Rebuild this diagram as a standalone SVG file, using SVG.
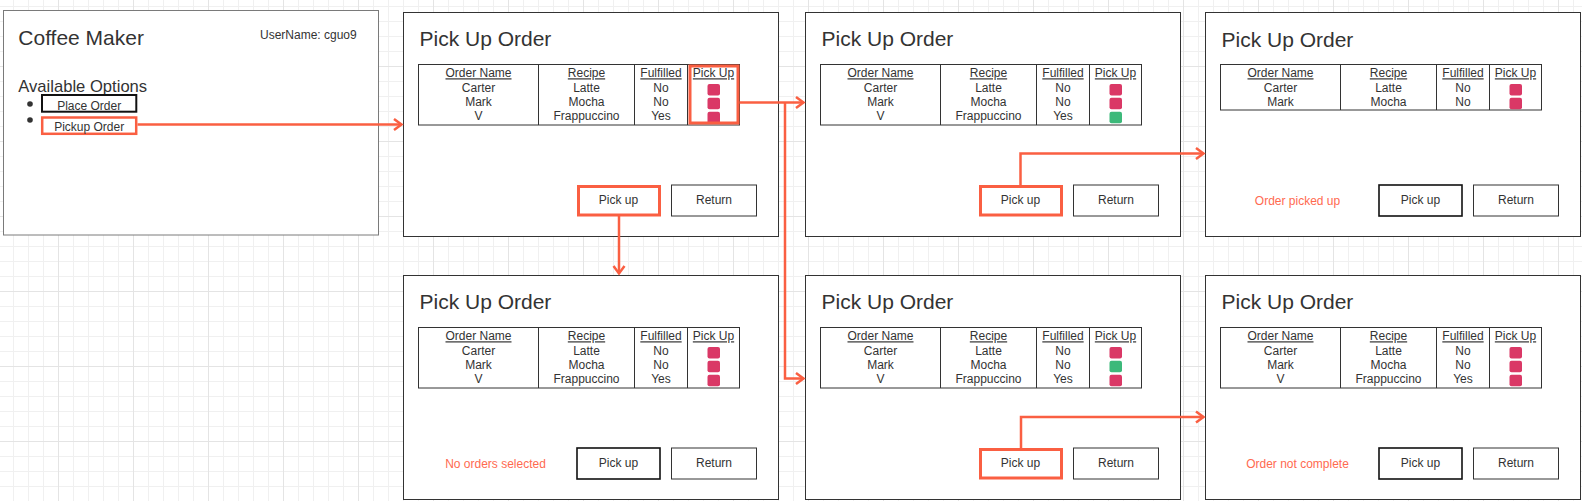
<svg xmlns="http://www.w3.org/2000/svg" width="1582" height="501" viewBox="0 0 1582 501">
<defs>
<style>
.t{font-family:"Liberation Sans",Arial,sans-serif;fill:#333}
.title{font-size:21px}
.c{font-size:12px;text-anchor:middle}
.hd{text-decoration:underline}
.panel{fill:#fff;stroke:#333;stroke-width:1}
.tbl{fill:none;stroke:#333;stroke-width:1}
.btn{fill:#fff;stroke:#333;stroke-width:1}
.btnk{fill:#fff;stroke:#111;stroke-width:1.6}
.btno{fill:#fff;stroke:#fa5f42;stroke-width:3}
.hl{fill:none;stroke:#fa5f42;stroke-width:3}
.cr{fill:#da3866}
.cg{fill:#3cb97a}
.msg{font-family:"Liberation Sans",Arial,sans-serif;font-size:12px;fill:#ff6a50;text-anchor:middle}
.conn{fill:none;stroke:#fa5f42;stroke-width:2.5;marker-end:url(#arr)}
</style>
<pattern id="grid" x="-17" y="-9" width="75" height="75" patternUnits="userSpaceOnUse">
<path d="M15.5,0V75M30.5,0V75M45.5,0V75M60.5,0V75M0,15.5H75M0,30.5H75M0,45.5H75M0,60.5H75" stroke="#f0f0f0" stroke-width="1" fill="none"/>
<path d="M0.5,0V75M0,0.5H75" stroke="#e4e4e4" stroke-width="1" fill="none"/>
</pattern>
<marker id="arr" viewBox="0 0 12 14" markerWidth="12" markerHeight="14" refX="10" refY="7" orient="auto" markerUnits="userSpaceOnUse">
<path d="M2.5,1.5L10,7L2.5,12.5" fill="none" stroke="#fa5f42" stroke-width="2.5"/>
</marker>
</defs>
<rect width="1582" height="501" fill="#fff"/>
<rect width="1582" height="501" fill="url(#grid)"/>

<g id="home">
<rect x="3.5" y="10.5" width="375" height="224.5" fill="#fff" stroke="#7a7a7a"/>
<text class="t title" x="18.3" y="45">Coffee Maker</text>
<text class="t" x="260" y="39" font-size="12px">UserName: cguo9</text>
<text class="t" x="18.3" y="91.7" font-size="16.6px">Available Options</text>
<circle cx="30" cy="104" r="2.8" fill="#333"/>
<circle cx="30" cy="120" r="2.8" fill="#333"/>
<rect x="42" y="95" width="94.3" height="16.7" fill="#fff" stroke="#111" stroke-width="2"/>
<text class="t c" x="89.2" y="110">Place Order</text>
<rect x="42.2" y="117.5" width="94" height="16.3" fill="#fff" stroke="#fa5f42" stroke-width="2.5"/>
<text class="t c" x="89.2" y="130.7">Pickup Order</text>
</g>

<g id="pickup-1" transform="translate(403.5,12.5)">
<rect class="panel" x="0" y="0" width="375" height="224"/>
<text class="t title" x="16" y="33.5">Pick Up Order</text>
<rect class="tbl" x="15" y="52" width="321" height="60.5"/>
<path class="tbl" d="M135,52V112.5M231,52V112.5M284,52V112.5"/>
<text class="t c hd" x="75" y="64.8">Order Name</text><text class="t c hd" x="183" y="64.8">Recipe</text><text class="t c hd" x="257.5" y="64.8">Fulfilled</text><text class="t c hd" x="310" y="64.8">Pick Up</text>
<text class="t c" x="75" y="79.2">Carter</text><text class="t c" x="183" y="79.2">Latte</text><text class="t c" x="257.5" y="79.2">No</text>
<text class="t c" x="75" y="93.2">Mark</text><text class="t c" x="183" y="93.2">Mocha</text><text class="t c" x="257.5" y="93.2">No</text>
<text class="t c" x="75" y="107.2">V</text><text class="t c" x="183" y="107.2">Frappuccino</text><text class="t c" x="257.5" y="107.2">Yes</text>
<rect class="cr" x="304" y="71.5" width="12.5" height="11.5" rx="2"/>
<rect class="cr" x="304" y="85.2" width="12.5" height="11.5" rx="2"/>
<rect class="cr" x="304" y="99.2" width="12.5" height="11.5" rx="2"/>
<rect class="hl" x="286.5" y="53.5" width="48" height="57"/>
<rect class="btno" x="175" y="174" width="81" height="28.5"/>
<text class="t c" x="215" y="191.8">Pick up</text>
<rect class="btn" x="268" y="172.5" width="85" height="31"/>
<text class="t c" x="310.5" y="191.8">Return</text>
</g>

<g id="pickup-2" transform="translate(805.5,12.5)">
<rect class="panel" x="0" y="0" width="375" height="224"/>
<text class="t title" x="16" y="33.5">Pick Up Order</text>
<rect class="tbl" x="15" y="52" width="321" height="60.5"/>
<path class="tbl" d="M135,52V112.5M231,52V112.5M284,52V112.5"/>
<text class="t c hd" x="75" y="64.8">Order Name</text><text class="t c hd" x="183" y="64.8">Recipe</text><text class="t c hd" x="257.5" y="64.8">Fulfilled</text><text class="t c hd" x="310" y="64.8">Pick Up</text>
<text class="t c" x="75" y="79.2">Carter</text><text class="t c" x="183" y="79.2">Latte</text><text class="t c" x="257.5" y="79.2">No</text>
<text class="t c" x="75" y="93.2">Mark</text><text class="t c" x="183" y="93.2">Mocha</text><text class="t c" x="257.5" y="93.2">No</text>
<text class="t c" x="75" y="107.2">V</text><text class="t c" x="183" y="107.2">Frappuccino</text><text class="t c" x="257.5" y="107.2">Yes</text>
<rect class="cr" x="304" y="71.5" width="12.5" height="11.5" rx="2"/>
<rect class="cr" x="304" y="85.2" width="12.5" height="11.5" rx="2"/>
<rect class="cg" x="304" y="99.2" width="12.5" height="11.5" rx="2"/>
<rect class="btno" x="175" y="174" width="81" height="28.5"/>
<text class="t c" x="215" y="191.8">Pick up</text>
<rect class="btn" x="268" y="172.5" width="85" height="31"/>
<text class="t c" x="310.5" y="191.8">Return</text>
</g>

<g id="picked-up" transform="translate(1205.5,12.5)">
<rect class="panel" x="0" y="0" width="375" height="224"/>
<text class="t title" x="16" y="34">Pick Up Order</text>
<rect class="tbl" x="15" y="52" width="321" height="45.5"/>
<path class="tbl" d="M135,52V97.5M231,52V97.5M284,52V97.5"/>
<text class="t c hd" x="75" y="64.8">Order Name</text><text class="t c hd" x="183" y="64.8">Recipe</text><text class="t c hd" x="257.5" y="64.8">Fulfilled</text><text class="t c hd" x="310" y="64.8">Pick Up</text>
<text class="t c" x="75" y="79.2">Carter</text><text class="t c" x="183" y="79.2">Latte</text><text class="t c" x="257.5" y="79.2">No</text>
<text class="t c" x="75" y="93.2">Mark</text><text class="t c" x="183" y="93.2">Mocha</text><text class="t c" x="257.5" y="93.2">No</text>
<rect class="cr" x="304" y="71.5" width="12.5" height="11.5" rx="2"/>
<rect class="cr" x="304" y="85.2" width="12.5" height="11.5" rx="2"/>
<text class="msg" x="92" y="192">Order picked up</text>
<rect class="btnk" x="173.5" y="172.5" width="83" height="31"/>
<text class="t c" x="215" y="191.8">Pick up</text>
<rect class="btn" x="268" y="172.5" width="85" height="31"/>
<text class="t c" x="310.5" y="191.8">Return</text>
</g>

<g id="no-selection" transform="translate(403.5,275.5)">
<rect class="panel" x="0" y="0" width="375" height="224"/>
<text class="t title" x="16" y="33.5">Pick Up Order</text>
<rect class="tbl" x="15" y="52" width="321" height="60.5"/>
<path class="tbl" d="M135,52V112.5M231,52V112.5M284,52V112.5"/>
<text class="t c hd" x="75" y="64.8">Order Name</text><text class="t c hd" x="183" y="64.8">Recipe</text><text class="t c hd" x="257.5" y="64.8">Fulfilled</text><text class="t c hd" x="310" y="64.8">Pick Up</text>
<text class="t c" x="75" y="79.2">Carter</text><text class="t c" x="183" y="79.2">Latte</text><text class="t c" x="257.5" y="79.2">No</text>
<text class="t c" x="75" y="93.2">Mark</text><text class="t c" x="183" y="93.2">Mocha</text><text class="t c" x="257.5" y="93.2">No</text>
<text class="t c" x="75" y="107.2">V</text><text class="t c" x="183" y="107.2">Frappuccino</text><text class="t c" x="257.5" y="107.2">Yes</text>
<rect class="cr" x="304" y="71.5" width="12.5" height="11.5" rx="2"/>
<rect class="cr" x="304" y="85.2" width="12.5" height="11.5" rx="2"/>
<rect class="cr" x="304" y="99.2" width="12.5" height="11.5" rx="2"/>
<text class="msg" x="92" y="192">No orders selected</text>
<rect class="btnk" x="173.5" y="172.5" width="83" height="31"/>
<text class="t c" x="215" y="191.8">Pick up</text>
<rect class="btn" x="268" y="172.5" width="85" height="31"/>
<text class="t c" x="310.5" y="191.8">Return</text>
</g>

<g id="pickup-3" transform="translate(805.5,275.5)">
<rect class="panel" x="0" y="0" width="375" height="224"/>
<text class="t title" x="16" y="33.5">Pick Up Order</text>
<rect class="tbl" x="15" y="52" width="321" height="60.5"/>
<path class="tbl" d="M135,52V112.5M231,52V112.5M284,52V112.5"/>
<text class="t c hd" x="75" y="64.8">Order Name</text><text class="t c hd" x="183" y="64.8">Recipe</text><text class="t c hd" x="257.5" y="64.8">Fulfilled</text><text class="t c hd" x="310" y="64.8">Pick Up</text>
<text class="t c" x="75" y="79.2">Carter</text><text class="t c" x="183" y="79.2">Latte</text><text class="t c" x="257.5" y="79.2">No</text>
<text class="t c" x="75" y="93.2">Mark</text><text class="t c" x="183" y="93.2">Mocha</text><text class="t c" x="257.5" y="93.2">No</text>
<text class="t c" x="75" y="107.2">V</text><text class="t c" x="183" y="107.2">Frappuccino</text><text class="t c" x="257.5" y="107.2">Yes</text>
<rect class="cr" x="304" y="71.5" width="12.5" height="11.5" rx="2"/>
<rect class="cg" x="304" y="85.2" width="12.5" height="11.5" rx="2"/>
<rect class="cr" x="304" y="99.2" width="12.5" height="11.5" rx="2"/>
<rect class="btno" x="175" y="174" width="81" height="28.5"/>
<text class="t c" x="215" y="191.8">Pick up</text>
<rect class="btn" x="268" y="172.5" width="85" height="31"/>
<text class="t c" x="310.5" y="191.8">Return</text>
</g>

<g id="not-complete" transform="translate(1205.5,275.5)">
<rect class="panel" x="0" y="0" width="375" height="224"/>
<text class="t title" x="16" y="33.5">Pick Up Order</text>
<rect class="tbl" x="15" y="52" width="321" height="60.5"/>
<path class="tbl" d="M135,52V112.5M231,52V112.5M284,52V112.5"/>
<text class="t c hd" x="75" y="64.8">Order Name</text><text class="t c hd" x="183" y="64.8">Recipe</text><text class="t c hd" x="257.5" y="64.8">Fulfilled</text><text class="t c hd" x="310" y="64.8">Pick Up</text>
<text class="t c" x="75" y="79.2">Carter</text><text class="t c" x="183" y="79.2">Latte</text><text class="t c" x="257.5" y="79.2">No</text>
<text class="t c" x="75" y="93.2">Mark</text><text class="t c" x="183" y="93.2">Mocha</text><text class="t c" x="257.5" y="93.2">No</text>
<text class="t c" x="75" y="107.2">V</text><text class="t c" x="183" y="107.2">Frappuccino</text><text class="t c" x="257.5" y="107.2">Yes</text>
<rect class="cr" x="304" y="71.5" width="12.5" height="11.5" rx="2"/>
<rect class="cr" x="304" y="85.2" width="12.5" height="11.5" rx="2"/>
<rect class="cr" x="304" y="99.2" width="12.5" height="11.5" rx="2"/>
<text class="msg" x="92" y="192">Order not complete</text>
<rect class="btnk" x="173.5" y="172.5" width="83" height="31"/>
<text class="t c" x="215" y="191.8">Pick up</text>
<rect class="btn" x="268" y="172.5" width="85" height="31"/>
<text class="t c" x="310.5" y="191.8">Return</text>
</g>

<g id="connectors">
<path class="conn" d="M137.5,124.5H401.5"/>
<path class="conn" d="M739.5,102.5H803.5"/>
<path class="conn" d="M785,102.5V378.5H803.5"/>
<path class="conn" d="M619,215.5V273.5"/>
<path class="conn" d="M1020.5,186V153.5H1203.5"/>
<path class="conn" d="M1021,449.5V417H1203.5"/>
</g>
</svg>
